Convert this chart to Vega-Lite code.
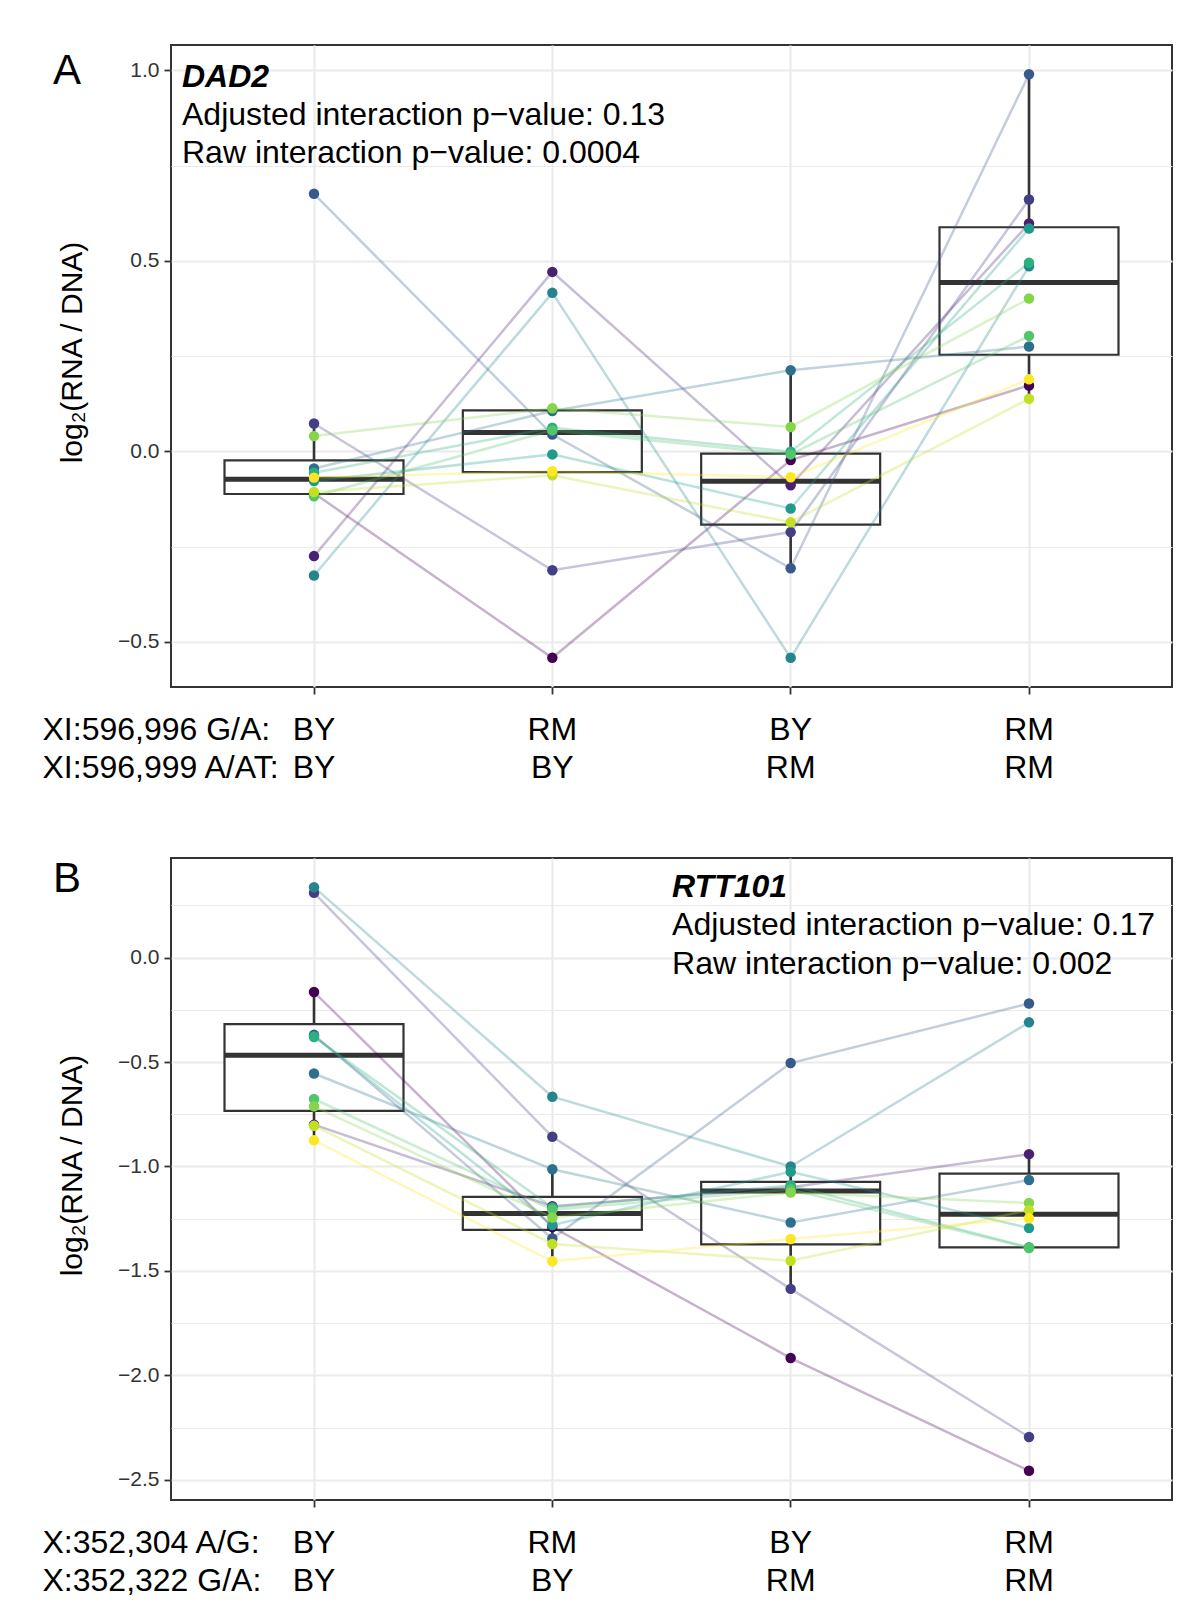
{
  "$schema": "https://vega.github.io/schema/vega-lite/v6.json",
  "padding": {"left": 41, "top": 44, "right": 10, "bottom": 10},
  "background": "white",
  "spacing": 171,
  "bounds": "flush",
  "config": {
    "font": "Liberation Sans",
    "view": {"stroke": "#333333", "strokeWidth": 2},
    "axis": {"domain": false, "gridColor": "#EBEBEB", "tickColor": "#333333", "tickWidth": 1.8, "tickSize": 7, "labelColor": "#000000", "titleColor": "#000000", "titleFontWeight": "normal"}
  },
  "datasets": {
    "d": [
      {"panel": "A", "rep": "R1", "geno": "BY|BY", "val": -0.11},
      {"panel": "A", "rep": "R1", "geno": "RM|BY", "val": -0.542},
      {"panel": "A", "rep": "R1", "geno": "BY|RM", "val": -0.023},
      {"panel": "A", "rep": "R1", "geno": "RM|RM", "val": 0.173},
      {"panel": "A", "rep": "R2", "geno": "BY|BY", "val": -0.275},
      {"panel": "A", "rep": "R2", "geno": "RM|BY", "val": 0.471},
      {"panel": "A", "rep": "R2", "geno": "BY|RM", "val": -0.089},
      {"panel": "A", "rep": "R2", "geno": "RM|RM", "val": 0.598},
      {"panel": "A", "rep": "R3", "geno": "BY|BY", "val": 0.073},
      {"panel": "A", "rep": "R3", "geno": "RM|BY", "val": -0.312},
      {"panel": "A", "rep": "R3", "geno": "BY|RM", "val": -0.212},
      {"panel": "A", "rep": "R3", "geno": "RM|RM", "val": 0.661},
      {"panel": "A", "rep": "R4", "geno": "BY|BY", "val": 0.676},
      {"panel": "A", "rep": "R4", "geno": "RM|BY", "val": 0.044},
      {"panel": "A", "rep": "R4", "geno": "BY|RM", "val": -0.307},
      {"panel": "A", "rep": "R4", "geno": "RM|RM", "val": 0.99},
      {"panel": "A", "rep": "R5", "geno": "BY|BY", "val": -0.045},
      {"panel": "A", "rep": "R5", "geno": "RM|BY", "val": 0.106},
      {"panel": "A", "rep": "R5", "geno": "BY|RM", "val": 0.213},
      {"panel": "A", "rep": "R5", "geno": "RM|RM", "val": 0.275},
      {"panel": "A", "rep": "R6", "geno": "BY|BY", "val": -0.326},
      {"panel": "A", "rep": "R6", "geno": "RM|BY", "val": 0.416},
      {"panel": "A", "rep": "R6", "geno": "BY|RM", "val": -0.542},
      {"panel": "A", "rep": "R6", "geno": "RM|RM", "val": 0.486},
      {"panel": "A", "rep": "R7", "geno": "BY|BY", "val": -0.078},
      {"panel": "A", "rep": "R7", "geno": "RM|BY", "val": -0.008},
      {"panel": "A", "rep": "R7", "geno": "BY|RM", "val": -0.15},
      {"panel": "A", "rep": "R7", "geno": "RM|RM", "val": 0.585},
      {"panel": "A", "rep": "R8", "geno": "BY|BY", "val": -0.056},
      {"panel": "A", "rep": "R8", "geno": "RM|BY", "val": 0.062},
      {"panel": "A", "rep": "R8", "geno": "BY|RM", "val": -0.001},
      {"panel": "A", "rep": "R8", "geno": "RM|RM", "val": 0.495},
      {"panel": "A", "rep": "R9", "geno": "BY|BY", "val": -0.118},
      {"panel": "A", "rep": "R9", "geno": "RM|BY", "val": 0.055},
      {"panel": "A", "rep": "R9", "geno": "BY|RM", "val": -0.008},
      {"panel": "A", "rep": "R9", "geno": "RM|RM", "val": 0.303},
      {"panel": "A", "rep": "R10", "geno": "BY|BY", "val": 0.04},
      {"panel": "A", "rep": "R10", "geno": "RM|BY", "val": 0.113},
      {"panel": "A", "rep": "R10", "geno": "BY|RM", "val": 0.064},
      {"panel": "A", "rep": "R10", "geno": "RM|RM", "val": 0.401},
      {"panel": "A", "rep": "R11", "geno": "BY|BY", "val": -0.107},
      {"panel": "A", "rep": "R11", "geno": "RM|BY", "val": -0.063},
      {"panel": "A", "rep": "R11", "geno": "BY|RM", "val": -0.186},
      {"panel": "A", "rep": "R11", "geno": "RM|RM", "val": 0.138},
      {"panel": "A", "rep": "R12", "geno": "BY|BY", "val": -0.069},
      {"panel": "A", "rep": "R12", "geno": "RM|BY", "val": -0.052},
      {"panel": "A", "rep": "R12", "geno": "BY|RM", "val": -0.068},
      {"panel": "A", "rep": "R12", "geno": "RM|RM", "val": 0.189},
      {"panel": "B", "rep": "R1", "geno": "BY|BY", "val": -0.165},
      {"panel": "B", "rep": "R1", "geno": "RM|BY", "val": -1.29},
      {"panel": "B", "rep": "R1", "geno": "BY|RM", "val": -1.917},
      {"panel": "B", "rep": "R1", "geno": "RM|RM", "val": -2.457},
      {"panel": "B", "rep": "R2", "geno": "BY|BY", "val": -0.8},
      {"panel": "B", "rep": "R2", "geno": "RM|BY", "val": -1.19},
      {"panel": "B", "rep": "R2", "geno": "BY|RM", "val": -1.1},
      {"panel": "B", "rep": "R2", "geno": "RM|RM", "val": -0.941},
      {"panel": "B", "rep": "R3", "geno": "BY|BY", "val": 0.31},
      {"panel": "B", "rep": "R3", "geno": "RM|BY", "val": -0.858},
      {"panel": "B", "rep": "R3", "geno": "BY|RM", "val": -1.586},
      {"panel": "B", "rep": "R3", "geno": "RM|RM", "val": -2.295},
      {"panel": "B", "rep": "R4", "geno": "BY|BY", "val": -0.37},
      {"panel": "B", "rep": "R4", "geno": "RM|BY", "val": -1.345},
      {"panel": "B", "rep": "R4", "geno": "BY|RM", "val": -0.505},
      {"panel": "B", "rep": "R4", "geno": "RM|RM", "val": -0.22},
      {"panel": "B", "rep": "R5", "geno": "BY|BY", "val": -0.555},
      {"panel": "B", "rep": "R5", "geno": "RM|BY", "val": -1.013},
      {"panel": "B", "rep": "R5", "geno": "BY|RM", "val": -1.268},
      {"panel": "B", "rep": "R5", "geno": "RM|RM", "val": -1.065},
      {"panel": "B", "rep": "R6", "geno": "BY|BY", "val": 0.337},
      {"panel": "B", "rep": "R6", "geno": "RM|BY", "val": -0.666},
      {"panel": "B", "rep": "R6", "geno": "BY|RM", "val": -1.0},
      {"panel": "B", "rep": "R6", "geno": "RM|RM", "val": -0.31},
      {"panel": "B", "rep": "R7", "geno": "BY|BY", "val": -0.376},
      {"panel": "B", "rep": "R7", "geno": "RM|BY", "val": -1.28},
      {"panel": "B", "rep": "R7", "geno": "BY|RM", "val": -1.025},
      {"panel": "B", "rep": "R7", "geno": "RM|RM", "val": -1.295},
      {"panel": "B", "rep": "R8", "geno": "BY|BY", "val": -0.38},
      {"panel": "B", "rep": "R8", "geno": "RM|BY", "val": -1.196},
      {"panel": "B", "rep": "R8", "geno": "BY|RM", "val": -1.09},
      {"panel": "B", "rep": "R8", "geno": "RM|RM", "val": -1.387},
      {"panel": "B", "rep": "R9", "geno": "BY|BY", "val": -0.677},
      {"panel": "B", "rep": "R9", "geno": "RM|BY", "val": -1.207},
      {"panel": "B", "rep": "R9", "geno": "BY|RM", "val": -1.11},
      {"panel": "B", "rep": "R9", "geno": "RM|RM", "val": -1.39},
      {"panel": "B", "rep": "R10", "geno": "BY|BY", "val": -0.712},
      {"panel": "B", "rep": "R10", "geno": "RM|BY", "val": -1.244},
      {"panel": "B", "rep": "R10", "geno": "BY|RM", "val": -1.125},
      {"panel": "B", "rep": "R10", "geno": "RM|RM", "val": -1.175},
      {"panel": "B", "rep": "R11", "geno": "BY|BY", "val": -0.805},
      {"panel": "B", "rep": "R11", "geno": "RM|BY", "val": -1.371},
      {"panel": "B", "rep": "R11", "geno": "BY|RM", "val": -1.451},
      {"panel": "B", "rep": "R11", "geno": "RM|RM", "val": -1.209},
      {"panel": "B", "rep": "R12", "geno": "BY|BY", "val": -0.875},
      {"panel": "B", "rep": "R12", "geno": "RM|BY", "val": -1.454},
      {"panel": "B", "rep": "R12", "geno": "BY|RM", "val": -1.347},
      {"panel": "B", "rep": "R12", "geno": "RM|RM", "val": -1.248}
    ]
  },
  "vconcat": [
    {
      "width": 1001,
      "height": 642,
      "data": {"name": "d"},
      "encoding": {
        "x": {
          "field": "geno", "type": "ordinal",
          "sort": ["BY|BY", "RM|BY", "BY|RM", "RM|RM"],
          "scale": {"type": "band", "paddingInner": 0, "paddingOuter": 0.1},
          "axis": {
            "labelExpr": "split(datum.label, '|')", "labelAngle": 0, "labelFontSize": 32, "labelLineHeight": 38.3,
            "labelBaseline": "alphabetic", "labelPadding": 45.6, "grid": true, "gridWidth": 2.2,
            "title": ["XI:596,996 G/A:", "XI:596,999 A/AT:"], "titleFontSize": 32, "titleLineHeight": 38.3,
            "titleAlign": "left", "titleBaseline": "alphabetic", "titleX": -129, "titleY": 52.6, "titleAngle": 0
          }
        },
        "y": {
          "field": "val", "type": "quantitative",
          "scale": {"domain": [-0.6186, 1.0666], "nice": false, "zero": false},
          "axis": {
            "values": [-0.5, -0.25, 0, 0.25, 0.5, 0.75, 1],
            "format": ".1f",
            "labelExpr": "abs(datum.value*2 - round(datum.value*2)) < 0.001 ? datum.label : ''",
            "labelFontSize": 21, "labelColor": "#333333", "labelPadding": 5,
            "grid": true,
            "tickOpacity": {"condition": {"test": "abs(datum.value*2 - round(datum.value*2)) < 0.001", "value": 1}, "value": 0},
            "gridWidth": {"condition": {"test": "abs(datum.value*2 - round(datum.value*2)) < 0.001", "value": 2.2}, "value": 1.2},
            "title": "log₂(RNA / DNA)", "titleFontSize": 30, "titleAngle": -90, "titleAlign": "center",
            "titleBaseline": "alphabetic", "titleX": -90, "titleY": 307
          }
        }
      },
      "layer": [
        {
          "transform": [{"filter": "datum.panel == 'A'"}],
          "mark": {
            "type": "boxplot", "extent": 1.5, "size": 179, "outliers": false,
            "box": {"fill": "white", "stroke": "#333333", "strokeWidth": 2.2},
            "median": {"color": "#333333", "thickness": 5, "opacity": 1},
            "rule": {"color": "#333333", "strokeWidth": 2.6}
          }
        },
        {
          "transform": [{"filter": "datum.panel == 'A'"}],
          "mark": {"type": "line", "strokeWidth": 2.5, "opacity": 0.3},
          "encoding": {
            "color": {"field": "rep", "type": "nominal", "legend": null,
              "scale": {"domain": ["R1","R2","R3","R4","R5","R6","R7","R8","R9","R10","R11","R12"],
                "range": ["#440154","#482173","#433E85","#38598C","#2D708E","#25858E","#1E9B8A","#2BB07F","#51C56A","#85D54A","#C2DF23","#FDE725"]}}
          }
        },
        {
          "transform": [{"filter": "datum.panel == 'A'"}],
          "mark": {"type": "circle", "size": 110, "opacity": 1},
          "encoding": {
            "color": {"field": "rep", "type": "nominal", "legend": null,
              "scale": {"domain": ["R1","R2","R3","R4","R5","R6","R7","R8","R9","R10","R11","R12"],
                "range": ["#440154","#482173","#433E85","#38598C","#2D708E","#25858E","#1E9B8A","#2BB07F","#51C56A","#85D54A","#C2DF23","#FDE725"]}}
          }
        },
        {
          "transform": [{"filter": "datum.panel == 'A' && datum.rep == 'R1' && datum.geno == 'BY|BY'"}],
          "mark": {"type": "text", "text": "A", "fontSize": 42, "align": "left", "baseline": "alphabetic", "dx": -261, "color": "#000000"},
          "encoding": {"x": {"datum": "BY|BY"}, "y": {"datum": 0.963}}
        },
        {
          "transform": [{"filter": "datum.panel == 'A' && datum.rep == 'R1' && datum.geno == 'BY|BY'"}],
          "mark": {"type": "text", "text": "DAD2", "fontSize": 32, "fontStyle": "italic", "fontWeight": "bold", "align": "left", "baseline": "alphabetic", "dx": -132, "color": "#000000"},
          "encoding": {"x": {"datum": "BY|BY"}, "y": {"datum": 0.957}}
        },
        {
          "transform": [{"filter": "datum.panel == 'A' && datum.rep == 'R1' && datum.geno == 'BY|BY'"}],
          "mark": {"type": "text", "text": ["Adjusted interaction p−value: 0.13", "Raw interaction p−value: 0.0004"], "fontSize": 32, "lineHeight": 38.3, "align": "left", "baseline": "alphabetic", "dx": -132, "color": "#000000"},
          "encoding": {"x": {"datum": "BY|BY"}, "y": {"datum": 0.8565}}
        }
      ]
    },
    {
      "width": 1001,
      "height": 642,
      "data": {"name": "d"},
      "encoding": {
        "x": {
          "field": "geno", "type": "ordinal",
          "sort": ["BY|BY", "RM|BY", "BY|RM", "RM|RM"],
          "scale": {"type": "band", "paddingInner": 0, "paddingOuter": 0.1},
          "axis": {
            "labelExpr": "split(datum.label, '|')", "labelAngle": 0, "labelFontSize": 32, "labelLineHeight": 38.3,
            "labelBaseline": "alphabetic", "labelPadding": 45.6, "grid": true, "gridWidth": 2.2,
            "title": ["X:352,304 A/G:", "X:352,322 G/A:"], "titleFontSize": 32, "titleLineHeight": 38.3,
            "titleAlign": "left", "titleBaseline": "alphabetic", "titleX": -129, "titleY": 52.6, "titleAngle": 0
          }
        },
        "y": {
          "field": "val", "type": "quantitative",
          "scale": {"domain": [-2.5967, 0.4767], "nice": false, "zero": false},
          "axis": {
            "values": [-2.5, -2.25, -2, -1.75, -1.5, -1.25, -1, -0.75, -0.5, -0.25, 0, 0.25],
            "format": ".1f",
            "labelExpr": "abs(datum.value*2 - round(datum.value*2)) < 0.001 ? datum.label : ''",
            "labelFontSize": 21, "labelColor": "#333333", "labelPadding": 5,
            "grid": true,
            "tickOpacity": {"condition": {"test": "abs(datum.value*2 - round(datum.value*2)) < 0.001", "value": 1}, "value": 0},
            "gridWidth": {"condition": {"test": "abs(datum.value*2 - round(datum.value*2)) < 0.001", "value": 2.2}, "value": 1.2},
            "title": "log₂(RNA / DNA)", "titleFontSize": 30, "titleAngle": -90, "titleAlign": "center",
            "titleBaseline": "alphabetic", "titleX": -90, "titleY": 307
          }
        }
      },
      "layer": [
        {
          "transform": [{"filter": "datum.panel == 'B'"}],
          "mark": {
            "type": "boxplot", "extent": 1.5, "size": 179, "outliers": false,
            "box": {"fill": "white", "stroke": "#333333", "strokeWidth": 2.2},
            "median": {"color": "#333333", "thickness": 5, "opacity": 1},
            "rule": {"color": "#333333", "strokeWidth": 2.6}
          }
        },
        {
          "transform": [{"filter": "datum.panel == 'B'"}],
          "mark": {"type": "line", "strokeWidth": 2.5, "opacity": 0.3},
          "encoding": {
            "color": {"field": "rep", "type": "nominal", "legend": null,
              "scale": {"domain": ["R1","R2","R3","R4","R5","R6","R7","R8","R9","R10","R11","R12"],
                "range": ["#440154","#482173","#433E85","#38598C","#2D708E","#25858E","#1E9B8A","#2BB07F","#51C56A","#85D54A","#C2DF23","#FDE725"]}}
          }
        },
        {
          "transform": [{"filter": "datum.panel == 'B'"}],
          "mark": {"type": "circle", "size": 110, "opacity": 1},
          "encoding": {
            "color": {"field": "rep", "type": "nominal", "legend": null,
              "scale": {"domain": ["R1","R2","R3","R4","R5","R6","R7","R8","R9","R10","R11","R12"],
                "range": ["#440154","#482173","#433E85","#38598C","#2D708E","#25858E","#1E9B8A","#2BB07F","#51C56A","#85D54A","#C2DF23","#FDE725"]}}
          }
        },
        {
          "transform": [{"filter": "datum.panel == 'B' && datum.rep == 'R1' && datum.geno == 'BY|BY'"}],
          "mark": {"type": "text", "text": "B", "fontSize": 42, "align": "left", "baseline": "alphabetic", "dx": -261, "color": "#000000"},
          "encoding": {"x": {"datum": "BY|BY"}, "y": {"datum": 0.3145}}
        },
        {
          "transform": [{"filter": "datum.panel == 'B' && datum.rep == 'R1' && datum.geno == 'BY|BY'"}],
          "mark": {"type": "text", "text": "RTT101", "fontSize": 32, "fontStyle": "italic", "fontWeight": "bold", "align": "left", "baseline": "alphabetic", "dx": -118.6, "color": "#000000"},
          "encoding": {"x": {"datum": "BY|RM"}, "y": {"datum": 0.2897}}
        },
        {
          "transform": [{"filter": "datum.panel == 'B' && datum.rep == 'R1' && datum.geno == 'BY|BY'"}],
          "mark": {"type": "text", "text": ["Adjusted interaction p−value: 0.17", "Raw interaction p−value: 0.002"], "fontSize": 32, "lineHeight": 38.3, "align": "left", "baseline": "alphabetic", "dx": -118.6, "color": "#000000"},
          "encoding": {"x": {"datum": "BY|RM"}, "y": {"datum": 0.1061}}
        }
      ]
    }
  ]
}
